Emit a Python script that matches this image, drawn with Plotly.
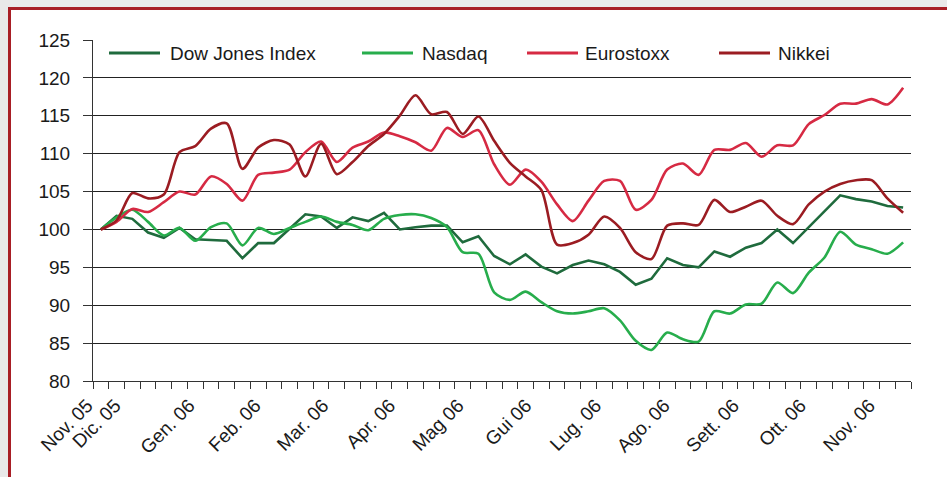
import plotly.graph_objects as go

weeks = list(range(52))

dow_jones = [100, 101.8, 101.4, 99.6, 98.9, 100.2, 98.7, 98.6, 98.5, 96.2,
             98.2, 98.2, 100.1, 102.0, 101.7, 100.2, 101.6, 101.1, 102.2, 100.0,
             100.3, 100.5, 100.5, 98.3, 99.1, 96.5, 95.4, 96.7, 95.1, 94.2,
             95.3, 95.9, 95.4, 94.4, 92.7, 93.5, 96.2, 95.3, 95.0, 97.1,
             96.4, 97.6, 98.2, 100.0, 98.2, 100.3, 102.4, 104.5, 104.0, 103.7,
             103.1, 102.9]

nasdaq = [100, 101.6, 102.6, 101.0, 99.2, 100.2, 98.5, 100.3, 100.8, 97.9,
          100.2, 99.4, 100.2, 101.0, 101.7, 101.0, 100.6, 99.9, 101.4, 101.9,
          102.0, 101.5, 100.3, 97.0, 96.8, 91.7, 90.7, 91.8, 90.4, 89.2,
          88.9, 89.2, 89.6, 88.0, 85.3, 84.1, 86.4, 85.5, 85.2, 89.2,
          88.9, 90.1, 90.2, 93.0, 91.6, 94.3, 96.3, 99.7, 98.0, 97.4,
          96.8, 98.3]

eurostoxx = [100, 101.0, 102.7, 102.3, 103.6, 105.0, 104.6, 107.0, 106.0, 103.8,
             107.2, 107.5, 107.9, 110.2, 111.6, 108.9, 110.8, 111.6, 112.8, 112.3,
             111.5, 110.4, 113.4, 112.2, 113.1, 108.6, 105.9, 107.9, 106.3, 103.3,
             101.1, 103.8, 106.4, 106.4, 102.6, 103.9, 107.9, 108.7, 107.2, 110.5,
             110.5, 111.4, 109.6, 111.1, 111.1, 113.9, 115.1, 116.6, 116.6, 117.2,
             116.5, 118.7]

nikkei = [100, 101.2, 104.8, 104.1, 104.6, 110.2, 111.0, 113.3, 114.0, 108.0,
          110.8, 111.8, 111.2, 107.0, 111.3, 107.3, 108.9, 111.0, 112.6, 115.0,
          117.7, 115.2, 115.5, 112.6, 114.9, 111.7, 108.8, 107.0, 105.2, 98.0,
          98.2, 99.3, 101.7, 100.2, 97.0, 96.1, 100.5, 100.8, 100.6, 103.9,
          102.3, 103.0, 103.8, 101.8, 100.7, 103.3, 105.0, 106.0, 106.5, 106.5,
          104.1, 102.2]

month_labels = ["Nov. 05", "Dic. 05", "Gen. 06", "Feb. 06", "Mar. 06", "Apr. 06",
                "Mag 06", "Gui 06", "Lug. 06", "Ago. 06", "Sett. 06", "Ott. 06", "Nov. 06"]
month_pos = [0.02, 1.8, 6.5, 10.7, 15.0, 19.25, 23.6, 27.9, 32.35, 36.7, 41.1, 45.35, 49.75]

y_ticks = [80, 85, 90, 95, 100, 105, 110, 115, 120, 125]

series = [
    ("Dow Jones Index", dow_jones, "#1f6b3d", "linear"),
    ("Nasdaq", nasdaq, "#27ad4c", "spline"),
    ("Eurostoxx", eurostoxx, "#d62a43", "spline"),
    ("Nikkei", nikkei, "#9b1c22", "spline"),
]

x_centers = [w + 0.5 for w in weeks]

fig = go.Figure()
for name, vals, color, shape in series:
    fig.add_trace(go.Scatter(
        x=x_centers, y=vals, name=name, mode="lines",
        line=dict(color=color, width=2.6, shape=shape, smoothing=0.8),
        showlegend=False,
    ))

FONT = "Liberation Sans, Arial, Helvetica, sans-serif"

legend_x = [(109, 168), (362, 420), (527, 583), (719, 776)]
shapes = []
annotations = []

def px2x(px):
    return (px - 93.0) / 818.0

def py2y(py):
    return (381.0 - py) / 341.0

# white card with red frame over a light gray page
shapes.append(dict(type="rect", xref="paper", yref="paper",
                   x0=px2x(9.5), x1=1.3, y0=-0.6, y1=py2y(8.5),
                   fillcolor="white", line=dict(color="#a81e25", width=3),
                   layer="below"))

for (name, vals, color, shape), (lx, tx) in zip(series, legend_x):
    shapes.append(dict(type="line", xref="paper", yref="paper",
                       x0=px2x(lx), x1=px2x(lx + 51), y0=py2y(53), y1=py2y(53),
                       line=dict(color=color, width=3)))
    annotations.append(dict(xref="paper", yref="paper", x=px2x(tx), y=py2y(54),
                            text=name, showarrow=False, xanchor="left", yanchor="middle",
                            font=dict(family=FONT, size=19, color="#1a1a1a")))

fig.update_layout(
    width=947, height=477,
    margin=dict(l=93, r=36, t=40, b=96),
    paper_bgcolor="#e9e9e9",
    plot_bgcolor="rgba(0,0,0,0)",
    font=dict(family=FONT, size=19, color="#1a1a1a"),
    shapes=shapes,
    annotations=annotations,
    xaxis=dict(
        range=[0, 52],
        tickmode="array", tickvals=month_pos, ticktext=month_labels,
        tickangle=-45, ticks="", showgrid=False, zeroline=False,
        showline=True, linecolor="#333333", linewidth=1.2,
        ticklabelshift=-6, ticklabelstandoff=5,
        tickfont=dict(family=FONT, size=19, color="#1a1a1a"),
        minor=dict(tickmode="linear", tick0=0, dtick=1, ticks="outside",
                   ticklen=7, tickcolor="#333333", tickwidth=1.2, showgrid=False),
    ),
    yaxis=dict(
        range=[80, 125],
        tickmode="array", tickvals=y_ticks,
        ticks="outside", ticklen=9, tickcolor="#333333", tickwidth=1.2,
        ticklabelstandoff=9,
        showgrid=True, gridcolor="#222222", gridwidth=1.2,
        zeroline=False, showline=True, linecolor="#333333", linewidth=1.2,
        tickfont=dict(family=FONT, size=19, color="#1a1a1a"),
    ),
)

fig.write_html("out.html", config={"displayModeBar": False},
               post_script="document.body.style.margin='0px';")
